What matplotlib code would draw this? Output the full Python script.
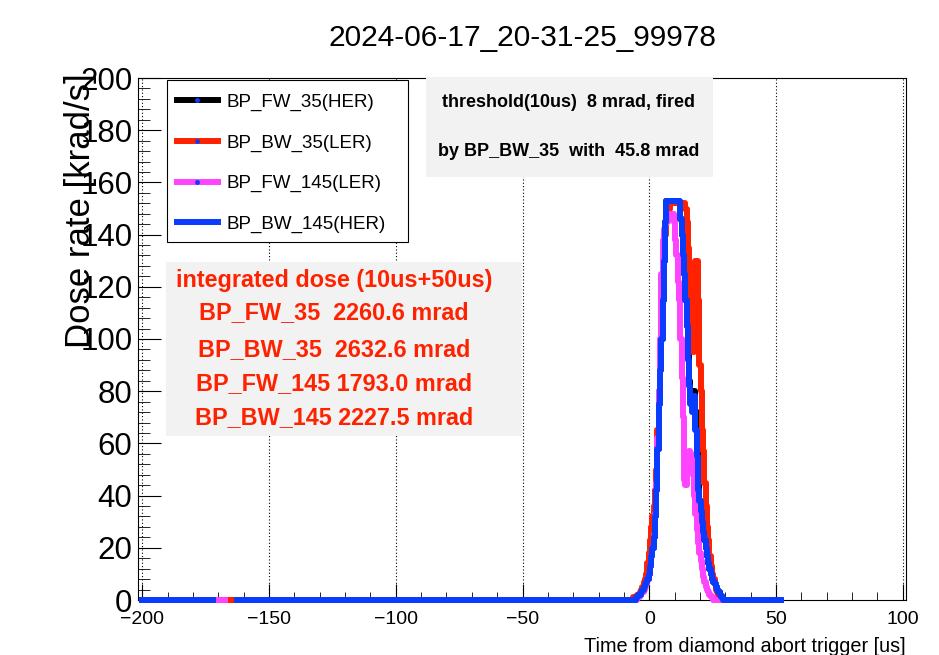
import numpy as np
import matplotlib
matplotlib.use("Agg")
import matplotlib.pyplot as plt
from matplotlib.patches import Rectangle
from matplotlib.lines import Line2D
from matplotlib.ticker import MultipleLocator

plt.rcParams['font.family'] = ['Liberation Sans', 'DejaVu Sans']

title = "2024-06-17_20-31-25_99978"
names = ["BP_FW_35(HER)", "BP_BW_35(LER)", "BP_FW_145(LER)", "BP_BW_145(HER)"]
short = ["BP_FW_35", "BP_BW_35", "BP_FW_145", "BP_BW_145"]
colors = ["black", "#ff2200", "#ff44ff", "#0a3cff"]

# dose rate [krad/s] in 0.5 us bins around the pulse, t = -6.0 ... 30.0 us
t_peak = np.arange(-6, 30.5, 0.5)
fw35 = [0, 0, 1, 1, 2, 2, 3, 4, 5, 6,
        7, 8, 10, 13, 17, 20, 24, 32, 42, 58,
        75, 88, 100, 115, 130, 145, 153, 153, 153, 153,
        153, 153, 153, 153, 153, 153, 152, 146, 140, 132,
        125, 115, 105, 94, 84, 78, 76, 80, 80, 72,
        58, 44, 38, 34, 30, 26, 23, 20, 17, 14,
        12, 10, 8, 7, 6, 5, 4, 3, 2, 1,
        1, 0, 0]
bw35 = [1, 1, 1, 2, 2, 3, 4, 5, 7, 8,
        10, 14, 18, 23, 28, 32, 36, 42, 50, 65,
        80, 92, 105, 118, 132, 140, 146, 148, 150, 152,
        152, 152, 152, 152, 152, 152, 152, 152, 152, 152,
        152, 150, 145, 135, 120, 110, 100, 95, 110, 130,
        130, 115, 90, 80, 65, 57, 45, 36, 28, 23,
        17, 13, 10, 8, 6, 4, 3, 2, 1, 1,
        0, 0, 0]
fw145 = [0, 0, 0, 1, 1, 2, 3, 3, 4, 5,
         6, 8, 10, 13, 17, 20, 25, 33, 45, 62,
         80, 100, 125, 138, 142, 144, 145, 146, 147, 148,
         148, 148, 145, 138, 132, 122, 115, 100, 85, 70,
         46, 44, 50, 55, 57, 56, 55, 48, 40, 33,
         27, 22, 18, 15, 12, 9, 7, 5, 4, 3,
         2, 1, 1, 0, 0, 0, 0, 0, 0, 0,
         0, 0, 0]
bw145 = [0, 0, 1, 1, 2, 2, 3, 4, 5, 6,
         7, 8, 10, 13, 17, 20, 24, 32, 42, 58,
         75, 88, 100, 115, 130, 145, 153, 153, 153, 153,
         153, 153, 153, 153, 153, 153, 153, 146, 140, 132,
         125, 115, 105, 92, 82, 75, 72, 76, 78, 65,
         55, 42, 38, 34, 30, 26, 23, 20, 17, 14,
         12, 10, 8, 7, 6, 5, 4, 3, 2, 1,
         1, 0, 0]
peaks = [fw35, bw35, fw145, bw145]
t_last = [50, 50, 50, 52]                             # last time bin of each record
gaps = [None, None, (-167, -162.5), (-172, -162.5)]   # missing bins

integrated = [2260.6, 2632.6, 1793.0, 2227.5]   # mrad, 10us+50us
threshold = 8
fired_by = "BP_BW_35"
fired_dose = 45.8

fig = plt.figure(figsize=(9.39, 6.55), dpi=100)
ax = fig.add_axes([138/939, 1-600/655, 768/939, 522/655])

for vals, last, gap, c in zip(peaks, t_last, gaps, colors):
    t = np.arange(-200, last + 0.5, 0.5)
    y = np.zeros(len(t))
    sel = (t >= t_peak[0]) & (t <= t_peak[-1])
    y[sel] = vals
    if gap is not None:
        y[(t >= gap[0]) & (t < gap[1])] = np.nan
    ax.step(t, y, where='mid', color=c, lw=4.3, clip_on=False, zorder=3)

ax.set_xlim(-201.7, 101.3)
ax.set_ylim(0, 200)
ax.xaxis.set_major_locator(MultipleLocator(50))
ax.xaxis.set_minor_locator(MultipleLocator(10))
ax.yaxis.set_major_locator(MultipleLocator(20))
ax.yaxis.set_minor_locator(MultipleLocator(4))
ax.tick_params(axis='both', which='both', direction='in')
ax.tick_params(axis='x', which='major', length=11.3, labelsize=14, pad=8)
ax.tick_params(axis='x', which='minor', length=5.6)
ax.tick_params(axis='y', which='major', length=16.6, labelsize=22.5, pad=4)
ax.tick_params(axis='y', which='minor', length=8.3)
ax.grid(axis='x', which='major', color='black', linestyle=(0, (1, 2)), lw=0.8)
for s in ax.spines.values():
    s.set_linewidth(0.8)

ax.text(-0.0755, 0.745, "Dose rate [krad/s]", rotation=90, ha='center', va='center',
        fontsize=25, transform=ax.transAxes, zorder=5)
ax.set_xlabel("Time from diamond abort trigger [us]", fontsize=14.3, loc='right')
ax.xaxis.set_label_coords(1.0, -0.07)
fig.text(0.556, 0.942, title, ha='center', va='center', fontsize=21.5)

# legend
ax.add_patch(Rectangle((0.0378, 0.686), 0.3138, 0.31, transform=ax.transAxes,
                       facecolor='white', edgecolor='black', lw=0.8, zorder=6))
handles = [Line2D([], [], color=c, lw=4.3, marker='o', ms=2.5,
                  mfc='#0a3cff', mec='#0a3cff') for c in colors]
leg = ax.legend(handles, names, loc='upper left', bbox_to_anchor=(0.038, 0.988),
                frameon=False, fontsize=13.5, borderpad=0.5, labelspacing=1.25,
                handlelength=2.2, handletextpad=0.45, borderaxespad=0, numpoints=1)
leg.set_zorder(7)

# threshold box
ax.add_patch(Rectangle((0.375, 0.81), 0.374, 0.19, transform=ax.transAxes,
                       facecolor='#f2f2f2', edgecolor='none', zorder=6))
ax.text(0.561, 0.954, f"threshold(10us)  {threshold} mrad, fired", ha='center',
        va='center', fontsize=13, fontweight='bold', transform=ax.transAxes, zorder=7)
ax.text(0.561, 0.860, f"by {fired_by}  with  {fired_dose} mrad", ha='center',
        va='center', fontsize=13, fontweight='bold', transform=ax.transAxes, zorder=7)

# integrated dose box
ax.add_patch(Rectangle((0.0365, 0.314), 0.4635, 0.3335, transform=ax.transAxes,
                       facecolor='#f2f2f2', edgecolor='none', zorder=6))
lines = ["integrated dose (10us+50us)"] + [f"{n:<10}{v:.1f} mrad" for n, v in zip(short, integrated)]
ys = [0.613, 0.550, 0.479, 0.414, 0.349]
for s, yy in zip(lines, ys):
    ax.text(0.255, yy, s, ha='center', va='center', fontsize=16.8, fontweight='bold',
            color='#ff2200', transform=ax.transAxes, zorder=7)

fig.savefig("out.png", dpi=100)
